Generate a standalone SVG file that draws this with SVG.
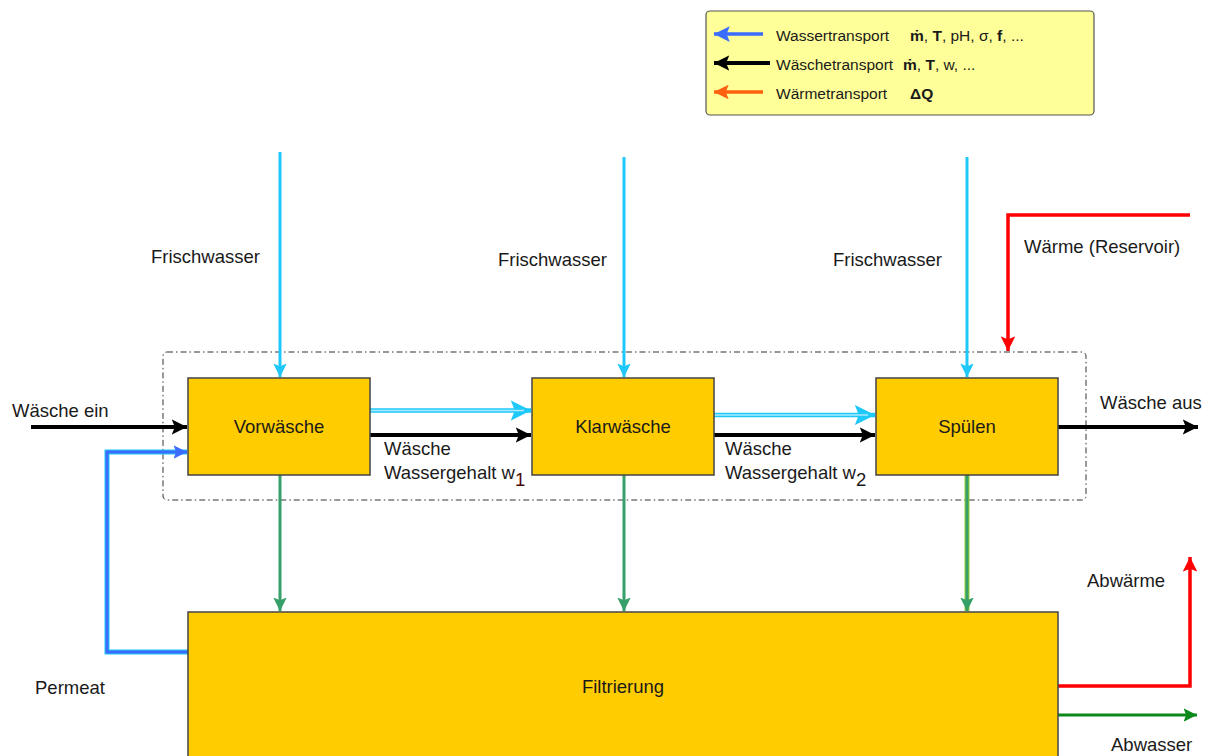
<svg xmlns="http://www.w3.org/2000/svg" width="1209" height="756" viewBox="0 0 1209 756">
<style>
text{font-family:"Liberation Sans",Arial,sans-serif;fill:#1a1a1a}
.t{font-size:18.5px}
.lg{font-size:15.5px}
.c{text-anchor:middle}
.b{font-weight:bold}
.box{fill:#ffcc00;stroke:#444;stroke-width:1.5}
.water{stroke:#1ec8f8;stroke-width:3;fill:none}
.green{stroke:#35a06a;stroke-width:3;fill:none}
.blk{stroke:#000;stroke-width:4;fill:none}
.red{stroke:#ff0000;stroke-width:3.5;fill:none}
</style>
<defs>
<marker id="aw" viewBox="0 0 10 10" refX="10" refY="5" markerWidth="4.5" markerHeight="4.5" orient="auto" markerUnits="strokeWidth"><path d="M0,0L10,5L0,10L2,5z" fill="#1ec8f8"/></marker>
<marker id="ab" viewBox="0 0 10 10" refX="10" refY="5" markerWidth="4.5" markerHeight="4.5" orient="auto" markerUnits="strokeWidth"><path d="M0,0L10,5L0,10L2,5z" fill="#3a6cff"/></marker>
<marker id="ak" viewBox="0 0 10 10" refX="10" refY="5" markerWidth="3.8" markerHeight="3.8" orient="auto" markerUnits="strokeWidth"><path d="M0,0L10,5L0,10L2,5z" fill="#000"/></marker>
<marker id="ag" viewBox="0 0 10 10" refX="10" refY="5" markerWidth="4.5" markerHeight="4.5" orient="auto" markerUnits="strokeWidth"><path d="M0,0L10,5L0,10L2,5z" fill="#35a06a"/></marker>
<marker id="ad" viewBox="0 0 10 10" refX="10" refY="5" markerWidth="4.5" markerHeight="4.5" orient="auto" markerUnits="strokeWidth"><path d="M0,0L10,5L0,10L2,5z" fill="#0a8a1a"/></marker>
<marker id="ar" viewBox="0 0 10 10" refX="10" refY="5" markerWidth="4.2" markerHeight="4.2" orient="auto" markerUnits="strokeWidth"><path d="M0,0L10,5L0,10L2,5z" fill="#ff0000"/></marker>
<marker id="ao" viewBox="0 0 10 10" refX="10" refY="5" markerWidth="4.2" markerHeight="4.2" orient="auto" markerUnits="strokeWidth"><path d="M0,0L10,5L0,10L2,5z" fill="#ff6010"/></marker>
</defs>

<g id="legend">
<rect x="706" y="11" width="388" height="104" rx="4" fill="#ffff99" stroke="#555" stroke-width="1.2"/>
<line x1="763" y1="34" x2="714" y2="34" stroke="#3a6cff" stroke-width="3.5" marker-end="url(#ab)"/>
<line x1="770" y1="63" x2="714" y2="63" stroke="#000" stroke-width="4" marker-end="url(#ak)"/>
<line x1="763" y1="92" x2="714" y2="92" stroke="#ff6010" stroke-width="3.5" marker-end="url(#ao)"/>
<text class="lg" x="776" y="41">Wassertransport</text>
<text class="lg" x="910" y="41"><tspan class="b">ṁ</tspan>, <tspan class="b">T</tspan>, pH, σ, <tspan class="b">f</tspan>, ...</text>
<text class="lg" x="776" y="70">Wäschetransport</text>
<text class="lg" x="903" y="70"><tspan class="b">ṁ</tspan>, <tspan class="b">T</tspan>, w, ...</text>
<text class="lg" x="776" y="99">Wärmetransport</text>
<text class="lg b" x="910" y="99">ΔQ</text>
</g>

<g id="system-boundary">
<rect x="163" y="352" width="923" height="148" rx="4" fill="none" stroke="#333" stroke-width="1" stroke-dasharray="6,3,1.5,3"/>
</g>

<g id="connectors">
<line class="water" x1="280" y1="152" x2="280" y2="377" marker-end="url(#aw)"/>
<line class="water" x1="624" y1="157" x2="624" y2="377" marker-end="url(#aw)"/>
<line class="water" x1="967" y1="157" x2="967" y2="377" marker-end="url(#aw)"/>
<line x1="370" y1="410.5" x2="531" y2="410.5" stroke="#1ec8f8" stroke-width="4.5" marker-end="url(#aw)"/>
<line x1="370" y1="410.5" x2="524" y2="410.5" stroke="#aeeaff" stroke-width="1.5"/>
<line x1="714" y1="415" x2="875" y2="415" stroke="#1ec8f8" stroke-width="4.5" marker-end="url(#aw)"/>
<line x1="714" y1="415" x2="868" y2="415" stroke="#aeeaff" stroke-width="1.5"/>
<line class="blk" x1="31" y1="427" x2="187" y2="427" marker-end="url(#ak)"/>
<line class="blk" x1="370" y1="435" x2="531" y2="435" marker-end="url(#ak)"/>
<line class="blk" x1="714" y1="435" x2="875" y2="435" marker-end="url(#ak)"/>
<line class="blk" x1="1058" y1="427" x2="1198" y2="427" marker-end="url(#ak)"/>
<path d="M188,652H107V452H187" fill="none" stroke="#1ec8f8" stroke-width="5"/>
<path d="M188,652H107V452H187" fill="none" stroke="#3a6cff" stroke-width="3" marker-end="url(#ab)"/>
<line class="green" x1="280" y1="475" x2="280" y2="611" marker-end="url(#ag)"/>
<line class="green" x1="624" y1="475" x2="624" y2="611" marker-end="url(#ag)"/>
<line x1="967" y1="475" x2="967" y2="611" stroke="#9acd32" stroke-width="5"/>
<line class="green" x1="967" y1="475" x2="967" y2="611" marker-end="url(#ag)"/>
<path class="red" d="M1190,215H1008V351" marker-end="url(#ar)"/>
<path class="red" d="M1058,686H1190V557" marker-end="url(#ar)"/>
<line x1="1058" y1="715" x2="1197" y2="715" stroke="#0a8a1a" stroke-width="3" marker-end="url(#ad)"/>
</g>

<g id="vorwaesche">
<rect class="box" x="188" y="378" width="182" height="97"/>
<text class="t c" x="279" y="433">Vorwäsche</text>
</g>
<g id="klarwaesche">
<rect class="box" x="532" y="378" width="182" height="97"/>
<text class="t c" x="623" y="433">Klarwäsche</text>
</g>
<g id="spuelen">
<rect class="box" x="876" y="378" width="182" height="97"/>
<text class="t c" x="967" y="433">Spülen</text>
</g>
<g id="filtrierung">
<rect class="box" x="188" y="612" width="870" height="150"/>
<text class="t c" x="623" y="693">Filtrierung</text>
</g>

<g id="labels">
<text class="t" x="151" y="263">Frischwasser</text>
<text class="t" x="498" y="266">Frischwasser</text>
<text class="t" x="833" y="266">Frischwasser</text>
<text class="t" x="1024" y="253">Wärme (Reservoir)</text>
<text class="t" x="12" y="417">Wäsche ein</text>
<text class="t" x="1100" y="409">Wäsche aus</text>
<text class="t" x="384" y="455">Wäsche</text>
<text class="t" x="384" y="479">Wassergehalt w<tspan dy="7" fill="#4a0a0a">1</tspan></text>
<text class="t" x="725" y="455">Wäsche</text>
<text class="t" x="725" y="479">Wassergehalt w<tspan dy="7">2</tspan></text>
<text class="t" x="1087" y="587">Abwärme</text>
<text class="t" x="1111" y="751">Abwasser</text>
<text class="t" x="35" y="694">Permeat</text>
</g>
</svg>
